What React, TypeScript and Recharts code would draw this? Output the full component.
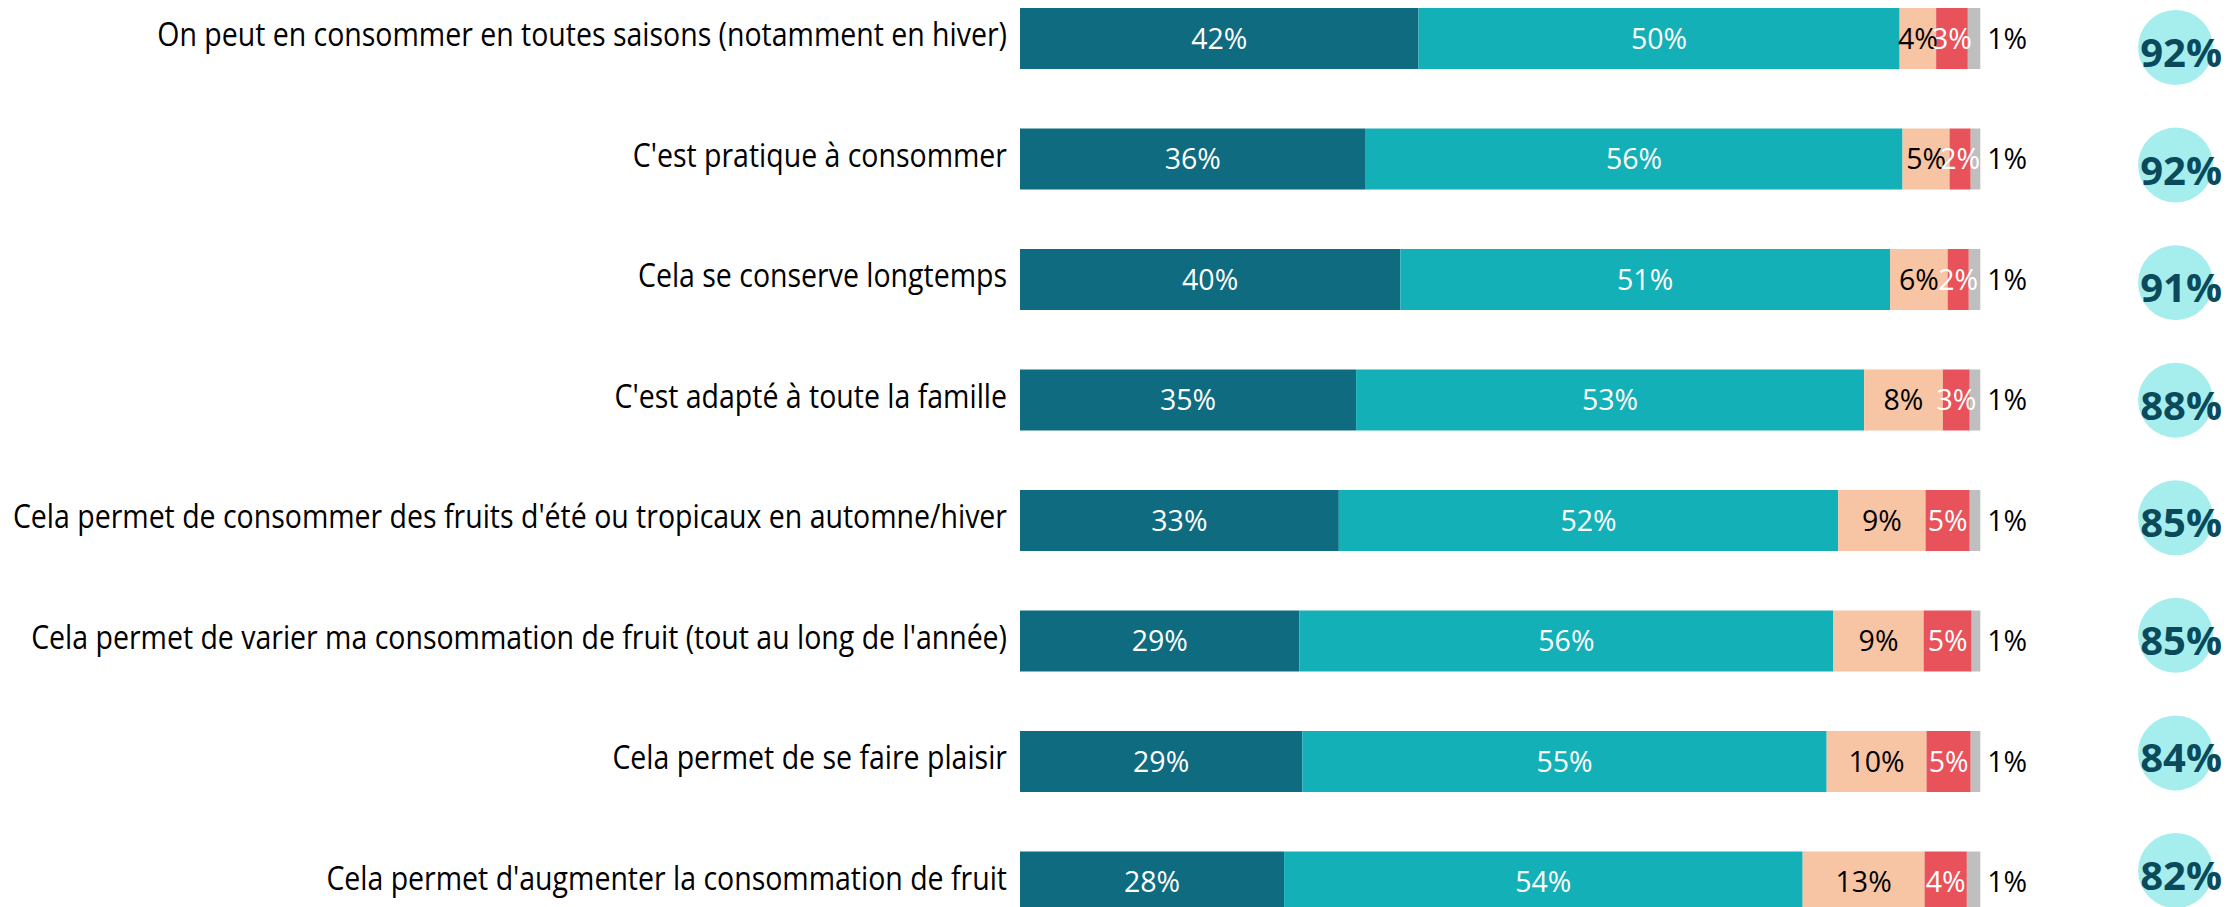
import React from "react";
import { Bar, BarChart, LabelList, ReferenceDot, XAxis, YAxis } from "recharts";

const categories = [
  "On peut en consommer en toutes saisons (notamment en hiver)",
  "C'est pratique à consommer",
  "Cela se conserve longtemps",
  "C'est adapté à toute la famille",
  "Cela permet de consommer des fruits d'été ou tropicaux en automne/hiver",
  "Cela permet de varier ma consommation de fruit (tout au long de l'année)",
  "Cela permet de se faire plaisir",
  "Cela permet d'augmenter la consommation de fruit",
];

// shares per answer (unrounded)
const toutAFait = [41.5, 36.0, 39.6, 35.0, 33.2, 29.1, 29.4, 27.5];
const plutot = [50.1, 55.9, 51.0, 52.9, 52.0, 55.6, 54.6, 54.0];
const plutotPas = [3.8, 4.9, 6.0, 8.2, 9.1, 9.4, 10.4, 12.7];
const pasDuTout = [3.3, 2.2, 2.2, 2.8, 4.6, 5.0, 4.6, 4.4];
const nsp = [1.3, 1.0, 1.2, 1.1, 1.1, 0.9, 1.0, 1.4];
const totals = [92, 92, 91, 88, 85, 85, 84, 82];

const FONT = "'Open Sans', sans-serif";
const LABEL_SIZE = 28.5;

const data = categories.map((name, i) => ({
  name,
  toutAFait: toutAFait[i],
  plutot: plutot[i],
  plutotPas: plutotPas[i],
  pasDuTout: pasDuTout[i],
  nsp: nsp[i],
}));

const pct = (v: any) => `${Math.round(Number(v))}%`;

// narrow-ish category labels (the original font is condensed)
const CategoryTick = (props: any) => {
  const { x, y, payload } = props;
  return (
    <text
      transform={`translate(${x},${y}) scale(0.89,1)`}
      dy={8}
      textAnchor="end"
      fontSize={32}
      fontFamily={FONT}
      fill="#000"
    >
      {payload.value}
    </text>
  );
};

const TotalBubble = (total: number) => (props: any) => {
  const { cx, cy } = props;
  return (
    <g>
      <circle cx={cx} cy={cy} r={37.5} fill="#a6eeed" />
      <text
        x={cx + 5.5}
        y={cy + 4}
        textAnchor="middle"
        dominantBaseline="central"
        fontFamily={FONT}
        fontWeight={700}
        fontSize={40}
        fill="#0b4a5b"
      >
        {total}%
      </text>
    </g>
  );
};

export default function App() {
  return (
    <div
      style={{
        position: "absolute",
        left: 0,
        top: 0,
        width: 2230,
        height: 907,
        overflow: "hidden",
        background: "#fff",
      }}
    >
      <div style={{ position: "absolute", left: 0, top: -22 }}>
        <BarChart
          width={2230}
          height={964}
          data={data}
          layout="vertical"
          margin={{ top: 0, right: 0, bottom: 0, left: 0 }}
          barSize={61}
        >
          <XAxis type="number" domain={[0, 126]} hide />
          <YAxis
            type="category"
            dataKey="name"
            width={1020}
            axisLine={false}
            tickLine={false}
            tickSize={0}
            tickMargin={13}
            interval={0}
            tick={<CategoryTick />}
          />
          <YAxis
            yAxisId="bubbles"
            type="category"
            dataKey="name"
            hide
            padding={{ top: 10.7, bottom: 12.7 }}
          />
          <Bar dataKey="toutAFait" stackId="a" fill="#0e6b80" isAnimationActive={false}>
            <LabelList dataKey="toutAFait" position="center" formatter={pct} fill="#fff" fontSize={LABEL_SIZE} fontFamily={FONT} />
          </Bar>
          <Bar dataKey="plutot" stackId="a" fill="#14b0b8" isAnimationActive={false}>
            <LabelList dataKey="plutot" position="center" formatter={pct} fill="#fff" fontSize={LABEL_SIZE} fontFamily={FONT} />
          </Bar>
          <Bar dataKey="plutotPas" stackId="a" fill="#f7c4a4" isAnimationActive={false}>
            <LabelList dataKey="plutotPas" position="center" formatter={pct} fill="#000" fontSize={LABEL_SIZE} fontFamily={FONT} />
          </Bar>
          <Bar dataKey="pasDuTout" stackId="a" fill="#e8525a" isAnimationActive={false}>
            <LabelList dataKey="pasDuTout" position="center" formatter={pct} fill="#fff" fontSize={LABEL_SIZE} fontFamily={FONT} />
          </Bar>
          <Bar dataKey="nsp" stackId="a" fill="#bfbfbf" isAnimationActive={false}>
            <LabelList dataKey="nsp" position="right" offset={7} formatter={pct} fill="#000" fontSize={LABEL_SIZE} fontFamily={FONT} />
          </Bar>
          {categories.map((c, i) => (
            <ReferenceDot
              key={c}
              yAxisId="bubbles"
              x={120.33}
              y={c}
              r={37.5}
              ifOverflow="visible"
              shape={TotalBubble(totals[i])}
            />
          ))}
        </BarChart>
      </div>
    </div>
  );
}
